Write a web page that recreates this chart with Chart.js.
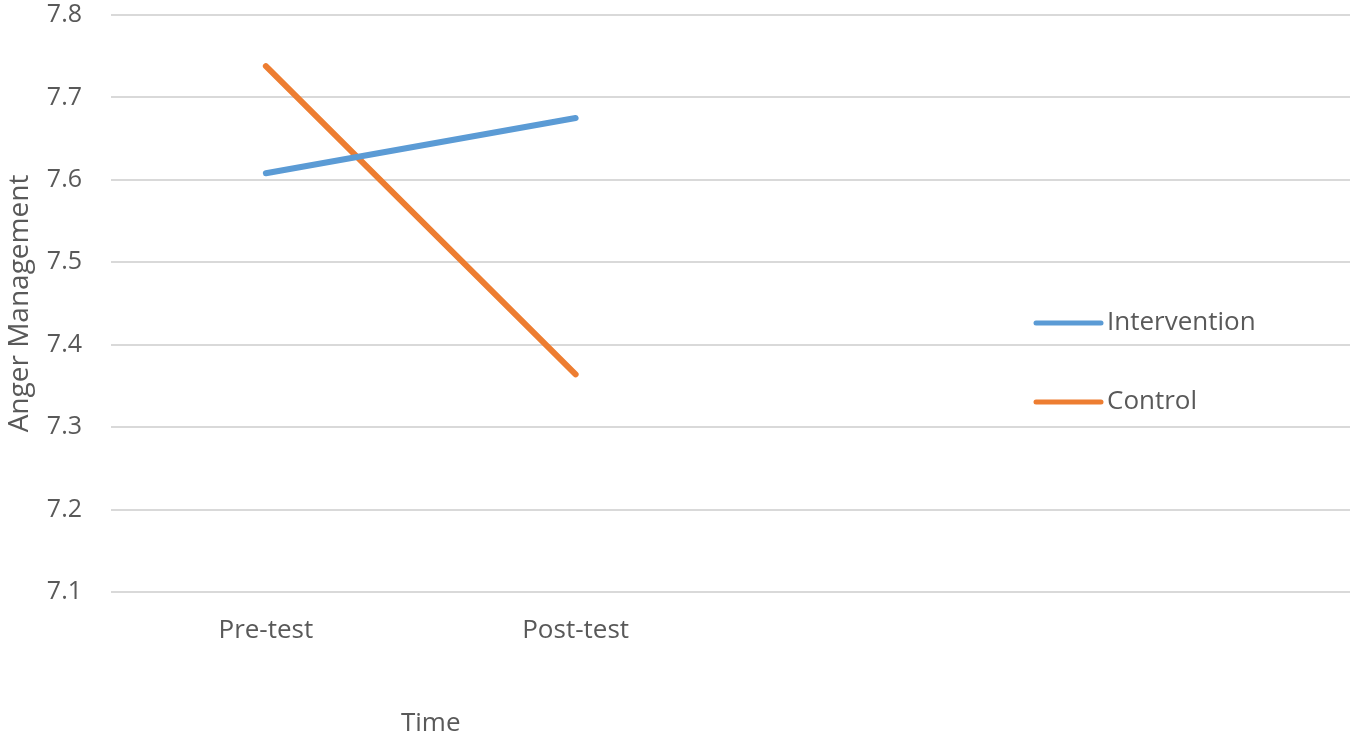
<!DOCTYPE html>
<html>
<head>
<meta charset="utf-8">
<title>Anger Management</title>
<script src="https://cdn.jsdelivr.net/npm/chart.js@4.4.1/dist/chart.umd.min.js"></script>
<style>
  html, body { margin: 0; padding: 0; background: #fff; }
  #wrap { width: 1350px; height: 746px; }
</style>
</head>
<body>
<div id="wrap"><canvas id="angerChart"></canvas></div>
<script>
// categories (last two slots are empty, as in the source chart)
var categories = ["Pre-test", "Post-test", "", ""];
var interventionValues = [7.608, 7.675];
var controlValues = [7.738, 7.364];
var yTicks = [7.1, 7.2, 7.3, 7.4, 7.5, 7.6, 7.7, 7.8];

var textColor = "#595959";
var fontFamily = "'Open Sans', 'Noto Sans', sans-serif";

// legend drawn by hand inside the plot, like the original
var legendPlugin = {
  id: "insideLegend",
  afterDraw: function (chart) {
    var c = chart.ctx;
    var rows = [323, 402];
    c.save();
    chart.data.datasets.forEach(function (ds, i) {
      c.strokeStyle = ds.borderColor;
      c.lineWidth = 5;
      c.lineCap = "round";
      c.beginPath();
      c.moveTo(1036, rows[i]);
      c.lineTo(1101, rows[i]);
      c.stroke();
      c.fillStyle = textColor;
      c.font = "26px " + fontFamily;
      c.textBaseline = "middle";
      c.textAlign = "left";
      c.fillText(ds.label, 1107, rows[i]);
    });
    // x axis title, centred under the used categories
    var x = chart.scales.x;
    var mid = (x.getPixelForValue(0) + x.getPixelForValue(1)) / 2 + 10;
    c.textAlign = "center";
    c.fillText("Time", mid, 724);
    c.restore();
  },
};

var ctx = document.getElementById("angerChart").getContext("2d");

var angerChart = new Chart(ctx, {
  type: "line",
  data: {
    labels: categories,
    datasets: [
      {
        label: "Intervention",
        data: interventionValues,
        borderColor: "#5b9bd5",
        backgroundColor: "#5b9bd5",
        borderWidth: 6,
        borderCapStyle: "round",
        pointRadius: 0,
        tension: 0,
      },
      {
        label: "Control",
        data: controlValues,
        borderColor: "#ed7d31",
        backgroundColor: "#ed7d31",
        borderWidth: 6,
        borderCapStyle: "round",
        pointRadius: 0,
        tension: 0,
      },
    ],
  },
  options: {
    responsive: true,
    maintainAspectRatio: false,
    animation: false,
    layout: { padding: { left: 3, top: 0, right: 0, bottom: 0 } },
    plugins: {
      legend: { display: false },
      tooltip: { enabled: false },
    },
    scales: {
      x: {
        offset: true,
        grid: { display: false, drawTicks: false },
        border: { display: false },
        ticks: {
          color: textColor,
          font: { size: 26, family: fontFamily },
          padding: 23,
          maxRotation: 0,
        },
        afterFit: function (scale) {
          scale.height = 154;
        },
      },
      y: {
        min: 7.1,
        max: 7.8,
        afterBuildTicks: function (scale) {
          scale.ticks = yTicks.map(function (v) { return { value: v }; });
        },
        // invisible tick marks give the gap between labels and plot
        grid: {
          color: "#d9d9d9",
          lineWidth: 2,
          drawTicks: true,
          tickLength: 29,
          tickColor: "rgba(0,0,0,0)",
        },
        border: { display: false },
        ticks: {
          color: textColor,
          font: { size: 25, family: fontFamily },
          padding: 0,
          callback: function (v) { return v.toFixed(1); },
        },
        title: {
          display: true,
          text: "Anger Management",
          color: textColor,
          font: { size: 28, family: fontFamily },
          padding: 0,
        },
        afterFit: function (scale) {
          scale.width = 108;
        },
      },
    },
  },
  plugins: [legendPlugin],
});
</script>
</body>
</html>
